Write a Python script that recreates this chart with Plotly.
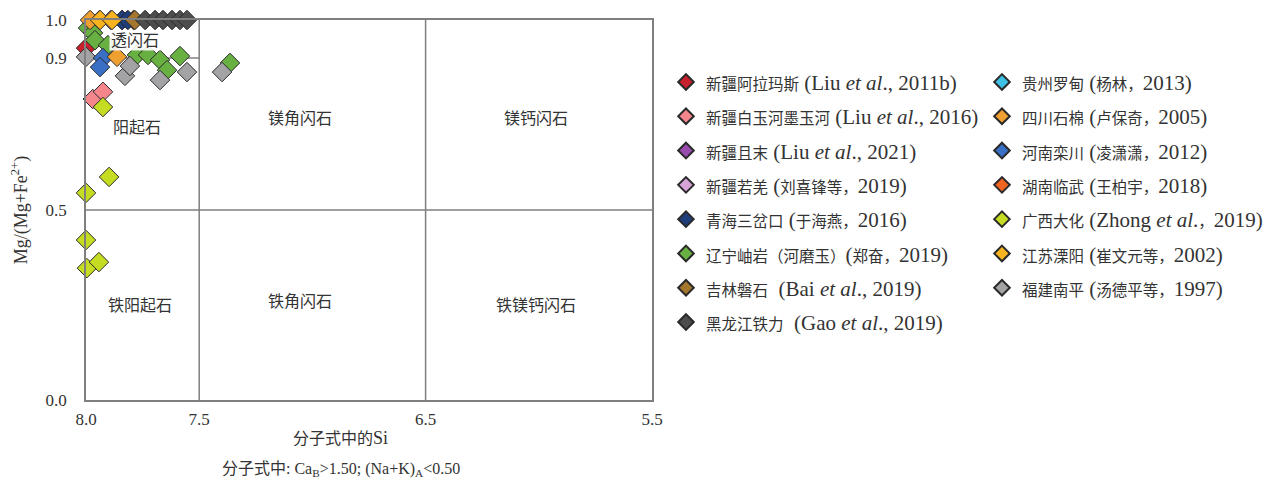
import re
import plotly.graph_objects as go

# ---------------- data ----------------
series_names = [
    "新疆阿拉玛斯 (Liu <i>et al</i>., 2011b)",
    "新疆白玉河墨玉河 (Liu <i>et al</i>., 2016)",
    "新疆且末 (Liu <i>et al</i>., 2021)",
    "新疆若羌 (刘喜锋等，2019)",
    "青海三岔口 (于海燕，2016)",
    "辽宁岫岩（河磨玉）(郑奋，2019)",
    "吉林磐石  (Bai <i>et al</i>., 2019)",
    "黑龙江铁力  (Gao <i>et al</i>., 2019)",
    "贵州罗甸 (杨林，2013)",
    "四川石棉 (卢保奇，2005)",
    "河南栾川 (凌潇潇，2012)",
    "湖南临武 (王柏宇，2018)",
    "广西大化 (Zhong <i>et al</i>.，2019)",
    "江苏溧阳 (崔文元等，2002)",
    "福建南平 (汤德平等，1997)",
]
series_colors = [
    "#c8202c", "#f4868c", "#9a4cae", "#d7a3d9", "#1f3d7a",
    "#67b041", "#a5762e", "#4d4d4d", "#3fc1e6", "#f0a030",
    "#3a6fc6", "#f06422", "#c6dc22", "#f8b41e", "#a3a3a5",
]
# Si (apfu) and Mg/(Mg+Fe2+) per series
si_vals = [
    [8.00],
    [7.97, 7.925],
    [7.94],
    [7.89],
    [7.841, 7.815],
    [8.004, 7.991, 7.969, 7.960, 7.903, 7.775, 7.726, 7.673, 7.585, 7.642, 7.364],
    [7.784],
    [7.739, 7.695, 7.660, 7.620, 7.585, 7.554],
    [7.84],
    [7.982, 7.863],
    [7.925, 7.938],
    [7.79],
    [7.925, 7.898, 8.000, 8.000, 7.996, 7.943],
    [7.938, 7.885],
    [8.000, 7.828, 7.806, 7.673, 7.554, 7.399],
]
mg_vals = [
    [0.926],
    [0.792, 0.811],
    [1.00],
    [1.00],
    [1.00, 1.00],
    [1.00, 0.979, 0.966, 0.947, 0.934, 0.908, 0.908, 0.895, 0.905, 0.868, 0.887],
    [1.00],
    [1.00, 1.00, 1.00, 1.00, 1.00, 1.00],
    [1.00],
    [1.00, 0.903],
    [0.900, 0.876],
    [1.00],
    [0.771, 0.587, 0.545, 0.421, 0.347, 0.363],
    [1.00, 1.00],
    [0.903, 0.853, 0.879, 0.842, 0.863, 0.863],
]
# drawing order (hidden series first)
draw_order = [2, 3, 8, 11, 0, 1, 5, 14, 10, 4, 9, 12, 13, 6, 7]

x_ticks = [8.0, 7.5, 6.5, 5.5]
y_ticks = [0.0, 0.5, 0.9, 1.0]

region_names = ["透闪石", "阳起石", "镁角闪石", "镁钙闪石", "铁阳起石", "铁角闪石", "铁镁钙闪石"]
region_si = [7.784, 7.775, 7.055, 6.012, 7.761, 7.055, 6.012]
region_mg = [0.947, 0.716, 0.742, 0.742, 0.250, 0.258, 0.250]

FONT = "Liberation Serif, Noto Sans CJK SC, serif"
TXT = "#333333"


def mixed(s, cjk_px=15.5):
    """Render CJK runs slightly smaller than the Latin text (as in the source figure)."""
    return re.sub(r"([\u3000-\u303f\u4e00-\u9fff\uff00-\uffef]+)",
                  r'<span style="font-size:%spx">\1</span>' % cjk_px, s)


fig = go.Figure()
for i in draw_order:
    col = 1 if i < 8 else 2
    fig.add_trace(go.Scatter(
        x=si_vals[i], y=mg_vals[i], mode="markers", name=mixed(series_names[i]),
        legendgroup=f"g{i}", legendrank=i,
        legend="legend" if col == 1 else "legend2",
        cliponaxis=False,
        marker=dict(symbol="diamond", size=15, color=series_colors[i],
                    line=dict(color="#2a2a2a", width=1)),
    ))

line_style = dict(color="#7f7f7f", width=1.5)
fig.add_shape(type="line", x0=7.5, x1=7.5, y0=0, y1=1.0, line=line_style, layer="below")
fig.add_shape(type="line", x0=6.5, x1=6.5, y0=0, y1=1.0, line=line_style, layer="below")
fig.add_shape(type="line", x0=8.0, x1=5.5, y0=0.5, y1=0.5, line=line_style, layer="below")
fig.add_shape(type="line", x0=8.0, x1=7.5, y0=0.9, y1=0.9, line=line_style, layer="below")

for k, (t, sx, my) in enumerate(zip(region_names, region_si, region_mg)):
    fig.add_annotation(x=sx, y=my, text=t, showarrow=False,
                       font=dict(family=FONT, size=16, color=TXT),
                       bgcolor="rgba(255,255,255,0.9)" if k == 0 else None)

fig.add_annotation(xref="paper", yref="paper", x=0.45, y=-0.1,
                   xanchor="center", yanchor="middle",
                   text='分子式中的<span style="font-size:18px">Si</span>', showarrow=False,
                   font=dict(family=FONT, size=16, color=TXT))
fig.add_annotation(xref="paper", yref="paper", x=0.45, y=-0.184,
                   xanchor="center", yanchor="middle",
                   text="分子式中: Ca<sub>B</sub>&gt;1.50; (Na+K)<sub>A</sub>&lt;0.50",
                   showarrow=False, font=dict(family=FONT, size=16, color=TXT))
fig.add_annotation(xref="paper", yref="paper", x=-0.116, y=0.5, textangle=-90,
                   xanchor="center", yanchor="middle",
                   text="Mg/(Mg+Fe<sup>2+</sup>)", showarrow=False,
                   font=dict(family=FONT, size=18, color=TXT))

axis_common = dict(showgrid=False, zeroline=False, showline=True, linecolor="#7f7f7f",
                   linewidth=1.5, mirror=True, ticks="", automargin=False,
                   tickfont=dict(family=FONT, size=17, color=TXT))
fig.update_xaxes(range=[8.0, 5.5], tickvals=x_ticks, ticktext=[f"{v:.1f}" for v in x_ticks],
                 ticklabelstandoff=3, **axis_common)
fig.update_yaxes(range=[0, 1.0], tickvals=y_ticks, ticktext=[f"{v:.1f}" for v in y_ticks],
                 ticklabelstandoff=14, **axis_common)

leg_common = dict(orientation="v", xanchor="left", yanchor="top", tracegroupgap=4,
                  font=dict(family=FONT, size=21, color=TXT), bgcolor="rgba(0,0,0,0)",
                  itemsizing="constant")
# page body adds an 8px offset; figure is sized to fit the 1285x489 window
fig.update_layout(
    width=1277, height=481,
    margin=dict(l=78, r=633, t=12, b=89),
    paper_bgcolor="white", plot_bgcolor="white",
    showlegend=True,
    legend=dict(x=1.0247, y=0.89, **leg_common),
    legend2=dict(x=1.583, y=0.89, **leg_common),
)

fig.write_html("out.html")
